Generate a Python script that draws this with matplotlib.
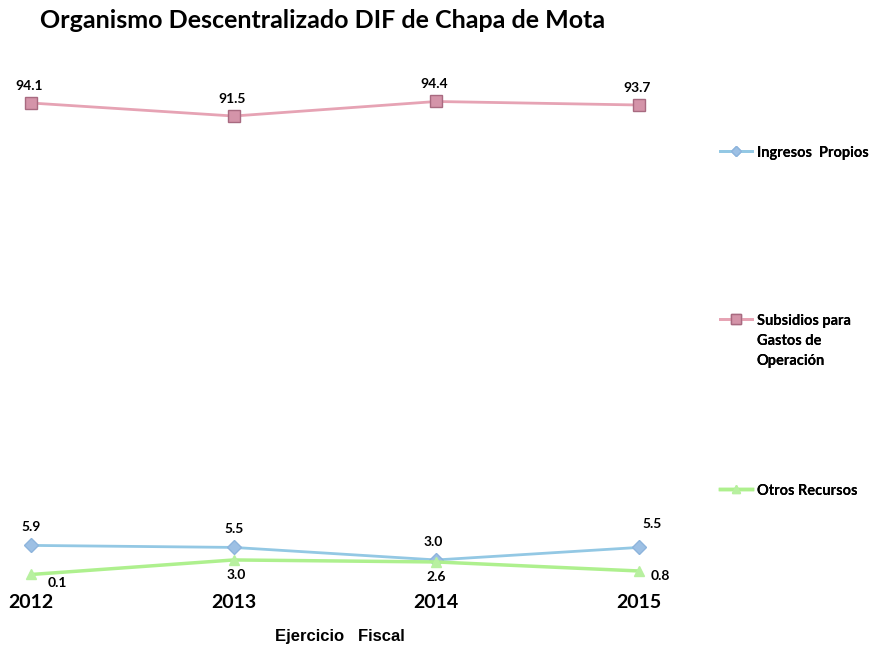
import matplotlib
matplotlib.use("Agg")
import matplotlib.pyplot as plt

years = ["2012", "2013", "2014", "2015"]
ingresos = [5.9, 5.5, 3.0, 5.5]
subsidios = [94.1, 91.5, 94.4, 93.7]
otros = [0.1, 3.0, 2.6, 0.8]

plt.rcParams['font.family'] = ['Lato', 'DejaVu Sans']

fig = plt.figure(figsize=(8.77, 6.5), dpi=100)
ax = fig.add_axes([31/877, 75/650, 608/877, 501.6/650])
x = list(range(len(years)))

c_blue, c_pink, c_green = "#93c8e4", "#e6a3b4", "#aef08e"
ax.plot(x, ingresos, color=c_blue, lw=2, marker="D", ms=7,
        mfc="#9dc0e4", mec="#8db4dc", clip_on=False, label="Ingresos  Propios")
ax.plot(x, subsidios, color=c_pink, lw=2, marker="s", ms=9,
        mfc="#d494a9", mec="#a86a80", clip_on=False,
        label="Subsidios para\nGastos de\nOperación")
ax.plot(x, otros, color=c_green, lw=2.5, marker="^", ms=7,
        mfc="#b8f0a0", mec="#b8f0a0", clip_on=False, label="Otros Recursos")

ax.set_xlim(0, 3)
ax.set_ylim(0, 100)
for s in ax.spines.values():
    s.set_visible(False)
ax.set_yticks([])
ax.set_xticks(x)
ax.set_xticklabels(years, fontsize=14, fontweight="bold")
ax.tick_params(axis="x", length=0, pad=14)
ax.set_xlabel("Ejercicio   Fiscal", fontsize=12, fontweight="bold",
              family=["Liberation Sans", "DejaVu Sans"])
ax.xaxis.set_label_coords((340 - 31) / 608, -54 / 501.6)

lblkw = dict(fontsize=10, fontweight="bold", ha="center", va="center")
for xi, v in zip(x, subsidios):
    ax.annotate(f"{v:.1f}", (xi, v), xytext=(-2, 17), textcoords="offset pixels", **lblkw)
ing_off = [(0, 18), (0, 18), (-3, 18), (13, 23)]
for xi, v, o in zip(x, ingresos, ing_off):
    ax.annotate(f"{v:.1f}", (xi, v), xytext=o, textcoords="offset pixels", **lblkw)
otr_off = [(26, -9), (3, -15), (0, -15), (21, -5)]
for xi, v, o in zip(x, otros, otr_off):
    ax.annotate(f"{v:.1f}", (xi, v), xytext=o, textcoords="offset pixels", **lblkw)

fig.text(40/877, 1 - 21/650, "Organismo Descentralizado DIF de Chapa de Mota",
         fontsize=18, fontweight="bold", ha="left", va="center")

handles, labels = ax.get_legend_handles_labels()
ypos = [153, 321, 491]
for h, l, yp in zip(handles, labels, ypos):
    leg = fig.legend([h], [l], loc="upper left",
                     bbox_to_anchor=(707/877, 1 - (yp - 20)/650),
                     frameon=False, handlelength=2.2, markerscale=0.8,
                     handletextpad=0.3, prop=dict(weight="bold", size=10.5))
    for t in leg.get_texts():
        t.set_linespacing(1.55)
    for col in leg._legend_handle_box.get_children():
        for hp in col.get_children():
            hp.align = "top"
    fig.add_artist(leg)

fig.savefig("out.png", dpi=100)
